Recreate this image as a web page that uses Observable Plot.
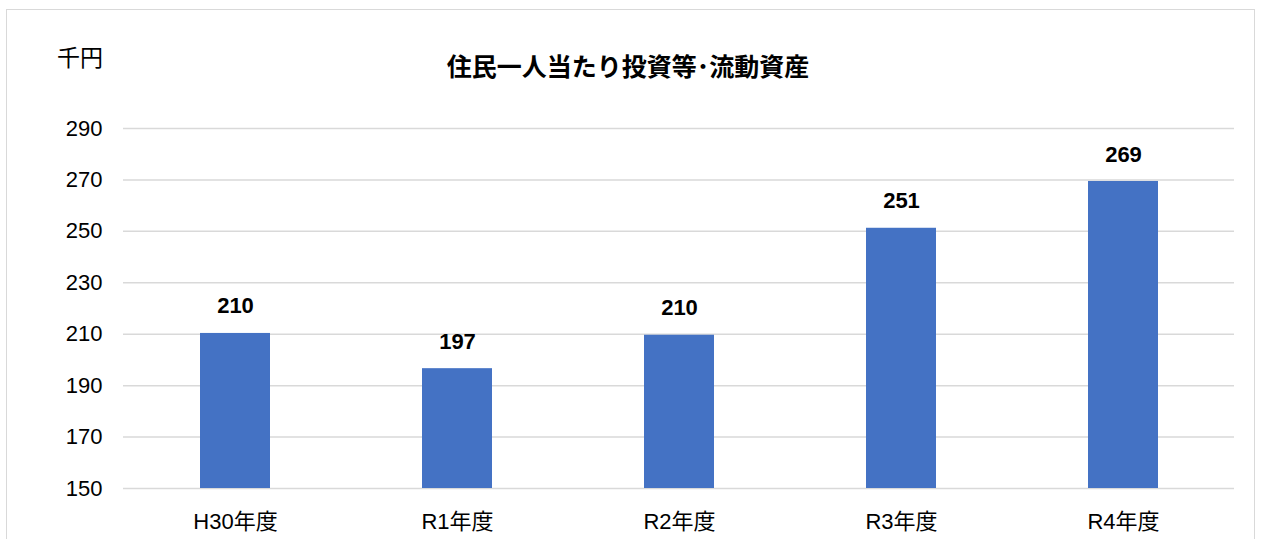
<!DOCTYPE html>
<html><head><meta charset="utf-8">
<script src="https://cdn.jsdelivr.net/npm/d3@7"></script>
<script src="https://cdn.jsdelivr.net/npm/@observablehq/plot@0.6"></script>
<style>
html,body{margin:0;padding:0;background:#fff;overflow:hidden;width:1266px;height:539px;}
#wrap{position:relative;width:1266px;height:539px;}
#frame{position:absolute;left:6px;top:9px;width:1249px;height:560px;border:1.5px solid #d9d9d9;box-sizing:border-box;}
#title{position:absolute;left:428px;width:400px;top:48px;text-align:center;font:bold 25px "Noto Sans CJK JP",sans-serif;color:#000;line-height:34px;}
#unit{position:absolute;left:57px;top:40px;font:23px "Noto Sans CJK JP",sans-serif;color:#000;line-height:32px;}
#chart{position:absolute;left:0;top:0;}
</style></head>
<body><div id="wrap"><div id="frame"></div><div id="chart"></div>
<div id="title">住民一人当たり投資等･流動資産</div><div id="unit">千円</div></div>
<script>
const categories = ["H30年度","R1年度","R2年度","R3年度","R4年度"];
const values = [210.3, 196.6, 209.6, 251.2, 269.4];
const labels = ["210","197","210","251","269"];
const yTicks = [150,170,190,210,230,250,270,290];
const data = categories.map((c,i)=>({cat:c, v:values[i], label:labels[i]}));
const plot = Plot.plot({
  width:1266, height:539,
  marginLeft:123, marginRight:32, marginTop:128, marginBottom:51,
  style:{fontFamily:'"Liberation Sans", "Noto Sans CJK JP", sans-serif', background:"transparent"},
  x:{domain:categories, padding:0, label:null},
  y:{domain:[150,290], label:null},
  marks:[
    Plot.gridY(yTicks,{stroke:"#d9d9d9", strokeOpacity:1, strokeWidth:1.5}),
    Plot.axisY(yTicks,{tickSize:0, tickPadding:21, fontSize:22, fill:"#000", label:null}),
    Plot.axisX({tickSize:0, tickPadding:25, fontSize:22, fill:"#000", label:null}),
    Plot.barY(data,{x:"cat", y1:150, y2:"v", fill:"#4472c4", insetLeft:76, insetRight:76}),
    Plot.text(data,{x:"cat", y:"v", text:"label", dy:-27, fontSize:22, fontWeight:"bold", fill:"#000"})
  ]
});
document.getElementById("chart").appendChild(plot);
</script></body></html>
